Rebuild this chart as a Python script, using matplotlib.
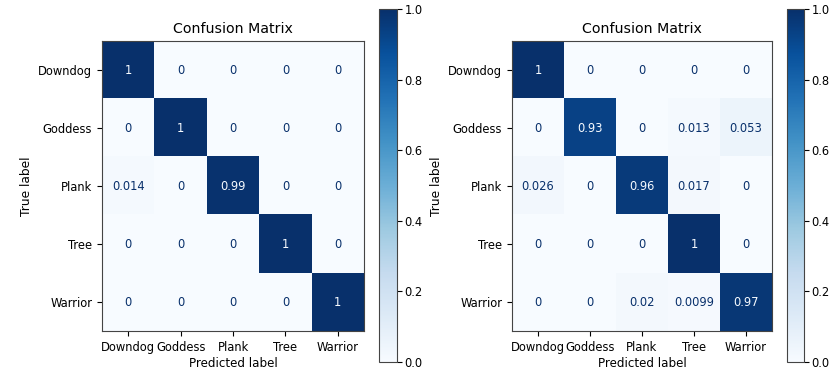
import matplotlib
matplotlib.use("Agg")
import matplotlib.pyplot as plt
import numpy as np

labels = ["Downdog", "Goddess", "Plank", "Tree", "Warrior"]

# row = true label, column = predicted label (normalized)
cm_left = [
    [1, 0, 0, 0, 0],
    [0, 1, 0, 0, 0],
    [0.014, 0, 0.99, 0, 0],
    [0, 0, 0, 1, 0],
    [0, 0, 0, 0, 1],
]
cm_right = [
    [1, 0, 0, 0, 0],
    [0, 0.93, 0, 0.013, 0.053],
    [0.026, 0, 0.96, 0.017, 0],
    [0, 0, 0, 1, 0],
    [0, 0, 0.02, 0.0099, 0.97],
]

cmap = plt.get_cmap("Blues")

fig = plt.figure(figsize=(8.33, 3.78), dpi=100)


def draw_cm(cm, ax_rect, cax_rect):
    cm = np.array(cm, dtype=float)
    ax = fig.add_axes(ax_rect)
    cax = fig.add_axes(cax_rect)
    im = ax.imshow(cm, cmap=cmap, vmin=0, vmax=1, aspect="auto", interpolation="nearest")
    thresh = 0.5
    for i in range(cm.shape[0]):
        for j in range(cm.shape[1]):
            v = cm[i, j]
            color = cmap(0.0) if v >= thresh else cmap(1.0)
            ax.text(j, i, format(v, ".2g"), ha="center", va="center", color=color, fontsize=8.3)
    ax.set_xticks(range(len(labels)))
    ax.set_yticks(range(len(labels)))
    ax.set_xticklabels(labels, fontsize=8.3)
    ax.set_yticklabels(labels, fontsize=8.3)
    ax.set_xlabel("Predicted label", fontsize=8.6, labelpad=2)
    ax.set_ylabel("True label", fontsize=8.8)
    ax.set_title("Confusion Matrix", fontsize=10.2, pad=6)
    for s in ax.spines.values():
        s.set_color("#444444")
    cb = fig.colorbar(im, cax=cax)
    cb.set_ticks([0, 0.2, 0.4, 0.6, 0.8, 1.0])
    cb.ax.tick_params(labelsize=8.3, pad=2)
    cb.outline.set_edgecolor("#444444")


draw_cm(cm_left, [0.1225, 0.1243, 0.3145, 0.7672], [0.455, 0.0423, 0.0216, 0.934])
draw_cm(cm_right, [0.6146, 0.1243, 0.3121, 0.7672], [0.9448, 0.0423, 0.0204, 0.934])

fig.savefig("out.png", dpi=100)
